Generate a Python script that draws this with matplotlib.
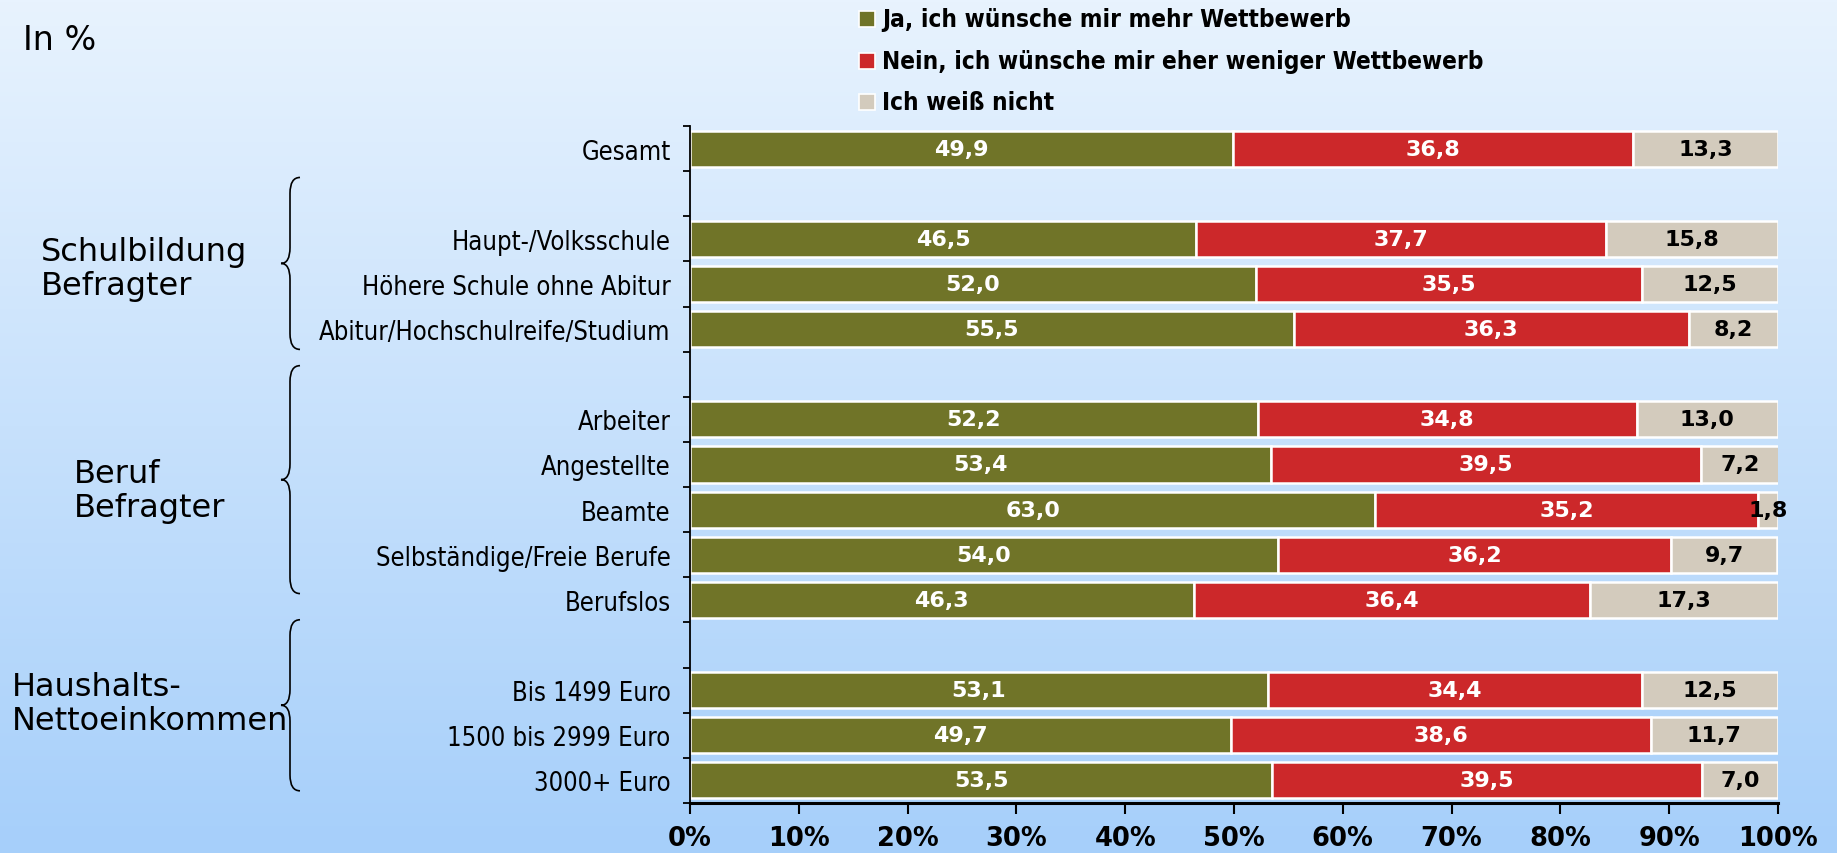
import numpy as np
import matplotlib
matplotlib.use("Agg")
import matplotlib.pyplot as plt
from matplotlib.path import Path
from matplotlib.patches import PathPatch, Rectangle
from matplotlib.transforms import blended_transform_factory

# ----------------------------------------------------------------
# Data (values in %), empty rows separate the groups
# ----------------------------------------------------------------
categories = ["Gesamt", "",
              "Haupt-/Volksschule", "Höhere Schule ohne Abitur", "Abitur/Hochschulreife/Studium", "",
              "Arbeiter", "Angestellte", "Beamte", "Selbständige/Freie Berufe", "Berufslos", "",
              "Bis 1499 Euro", "1500 bis 2999 Euro", "3000+ Euro"]
ja = [49.9, np.nan, 46.5, 52.0, 55.5, np.nan, 52.2, 53.4, 63.0, 54.0, 46.3, np.nan, 53.1, 49.7, 53.5]
nein = [36.8, np.nan, 37.7, 35.5, 36.3, np.nan, 34.8, 39.5, 35.2, 36.2, 36.4, np.nan, 34.4, 38.6, 39.5]
weiss = [13.3, np.nan, 15.8, 12.5, 8.2, np.nan, 13.0, 7.2, 1.8, 9.7, 17.3, np.nan, 12.5, 11.7, 7.0]

series_names = ["Ja, ich wünsche mir mehr Wettbewerb",
                "Nein, ich wünsche mir eher weniger Wettbewerb",
                "Ich weiß nicht"]
group_labels = ["Schulbildung\nBefragter", "Beruf\nBefragter", "Haushalts-\nNettoeinkommen"]
x_ticks = [0, 10, 20, 30, 40, 50, 60, 70, 80, 90, 100]

colors = ["#707428", "#cc282a", "#d3cbbd"]
text_colors = ["white", "white", "black"]

W, H = 1837, 854
fig = plt.figure(figsize=(W / 100, H / 100), dpi=100)

# background gradient
bg = fig.add_axes([0, 0, 1, 1], zorder=-10)
top = np.array([232, 243, 254]) / 255
bot = np.array([166, 207, 250]) / 255
t = np.linspace(0, 1, 256)[:, None, None]
grad = top * (1 - t) + bot * t
bg.imshow(np.repeat(grad, 2, axis=1), aspect="auto", extent=[0, 1, 0, 1])
bg.axis("off")

ax = fig.add_axes([690 / W, 50 / H, 1088 / W, 677 / H])
ax.set_facecolor("none")

y = np.arange(len(categories))
left = np.zeros(len(categories))
for vals, col, tcol in zip([ja, nein, weiss], colors, text_colors):
    vals = np.array(vals)
    ax.barh(y, vals, left=left, height=0.8, color=col, edgecolor="white", linewidth=1.8)
    for yi, (l, v) in enumerate(zip(left, vals)):
        if np.isnan(v):
            continue
        ax.text(l + v / 2, yi, f"{v:.1f}".replace(".", ","), ha="center", va="center",
                color=tcol, fontsize=16, fontweight="bold", family="DejaVu Sans")
    left = left + np.nan_to_num(vals)

ax.set_xlim(0, 100)
ax.set_ylim(len(categories) - 0.5, -0.5)

ax.set_xticks(x_ticks)
ax.set_xticklabels([f"{v}%" for v in x_ticks], fontsize=18.5, fontweight="bold", family="DejaVu Sans")
ax.tick_params(axis="x", length=8, width=1.5, pad=8, direction="out")

ax.set_yticks(y)
ax.set_yticklabels(categories, fontsize=18.4, family="DejaVu Sans", fontstretch="condensed")
ax.tick_params(axis="y", which="major", length=0, pad=14)
ax.set_yticks(np.arange(len(categories) + 1) - 0.5, minor=True)
ax.tick_params(axis="y", which="minor", length=5, width=1.3, direction="out")

for s in ["top", "right"]:
    ax.spines[s].set_visible(False)
ax.spines["left"].set_linewidth(1.3)
ax.spines["bottom"].set_linewidth(2.2)

# braces + group labels
tr = blended_transform_factory(fig.transFigure, ax.transData)
brace_spans = [(0.64, 4.45), (4.81, 9.86), (10.44, 14.23)]
xr, xm, xt = 300 / W, 290 / W, 281 / W
d = 0.35
for y0, y1 in brace_spans:
    ymid = (y0 + y1) / 2
    verts = [(xr, y0), (xm, y0), (xm, y0 + d),
             (xm, ymid - d), (xm, ymid), (xt, ymid),
             (xm, ymid), (xm, ymid + d),
             (xm, y1 - d), (xm, y1), (xr, y1)]
    codes = [Path.MOVETO, Path.CURVE3, Path.CURVE3,
             Path.LINETO, Path.CURVE3, Path.CURVE3,
             Path.CURVE3, Path.CURVE3,
             Path.LINETO, Path.CURVE3, Path.CURVE3]
    fig.patches.append(PathPatch(Path(verts, codes), transform=tr, fill=False,
                                 lw=1.2, edgecolor="black"))

group_pos = [(41, 2.66), (74, 7.58), (12, 12.3)]
for label, (gx, gy) in zip(group_labels, group_pos):
    fig.text(gx / W, gy, label, transform=tr, ha="left", va="center",
             fontsize=23, family="DejaVu Sans", linespacing=1.12)

fig.text(23 / W, 1 - 50 / H, "In %", ha="left", va="baseline", fontsize=24, family="DejaVu Sans")

# legend drawn by hand at the top
for i, (name, col) in enumerate(zip(series_names, colors)):
    yc = 1 - (20 + 41.5 * i) / H
    fig.patches.append(Rectangle((859 / W, yc - 8 / H), 16 / W, 16 / H, transform=fig.transFigure,
                                 facecolor=col, edgecolor="white", lw=1.2))
    fig.text(882 / W, yc, name, ha="left", va="center", fontsize=17.5, fontweight="bold",
             family="DejaVu Sans", fontstretch="condensed")

fig.savefig("out.png", dpi=100)
